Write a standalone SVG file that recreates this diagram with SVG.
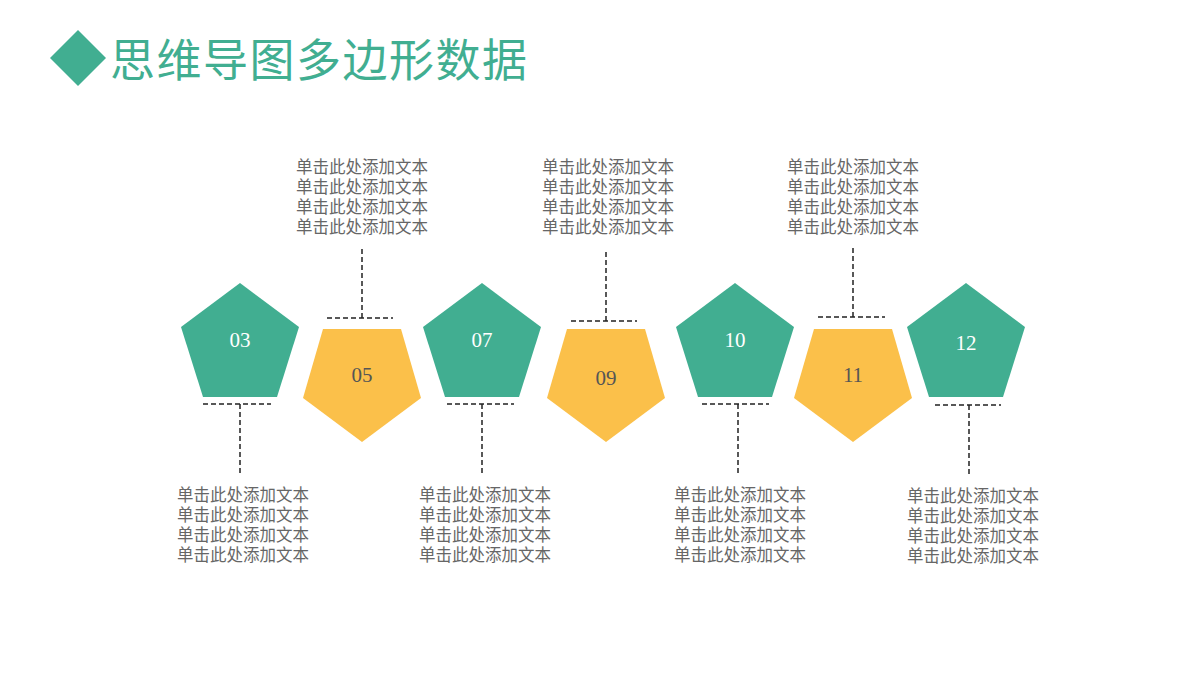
<svg xmlns="http://www.w3.org/2000/svg" width="1200" height="675" viewBox="0 0 1200 675">
<style>
.g{fill:#41ae91}.y{fill:#fbc04a}
.n{font-family:"Liberation Serif","Noto Sans CJK SC",serif;font-size:21px;text-anchor:middle}
.t{font-family:"Noto Sans CJK SC",sans-serif;font-size:16.5px;fill:#666;text-anchor:middle}
.d{stroke:#222;stroke-width:1.5;stroke-dasharray:5,3;fill:none}
</style>
<defs>
<polygon id="pu" points="0,-57 59,-13 37,57 -37,57 -59,-13"/>
<polygon id="pd" points="0,57 59,13 39,-56 -39,-56 -59,13"/>
</defs>
<rect width="1200" height="675" fill="#fff"/>
<polygon points="78,30 106,58 78,86 50,58" class="g"/>
<text x="110" y="77" font-family="Noto Sans CJK SC,sans-serif" font-size="45" fill="#41ae91" textLength="417">思维导图多边形数据</text>
<g id="connectors">
<path class="d" d="M203,404H271M240,404V475"/>
<path class="d" d="M447,404H514M482,404V475"/>
<path class="d" d="M702,404H769M738,404V475"/>
<path class="d" d="M935,405H1001M969,405V476"/>
<path class="d" d="M327,318H393M362,318V248"/>
<path class="d" d="M571,321H637M606,321V251"/>
<path class="d" d="M818,317H885M853,317V248"/>
</g>
<g id="n03"><use href="#pu" x="240" y="340" class="g"/><text x="240" y="347" class="n" fill="#fff">03</text></g>
<g id="n05"><use href="#pd" x="362" y="385" class="y"/><text x="362" y="382" class="n" fill="#555">05</text></g>
<g id="n07"><use href="#pu" x="482" y="340" class="g"/><text x="482" y="347" class="n" fill="#fff">07</text></g>
<g id="n09"><use href="#pd" x="606" y="385" class="y"/><text x="606" y="385" class="n" fill="#555">09</text></g>
<g id="n10"><use href="#pu" x="735" y="340" class="g"/><text x="735" y="347" class="n" fill="#fff">10</text></g>
<g id="n11"><use href="#pd" x="853" y="385" class="y"/><text x="853" y="382" class="n" fill="#555">11</text></g>
<g id="n12"><use href="#pu" x="966" y="340" class="g"/><text x="966" y="350" class="n" fill="#fff">12</text></g>
<g id="t03" class="t"><text x="243" y="501">单击此处添加文本</text><text x="243" y="521">单击此处添加文本</text><text x="243" y="541">单击此处添加文本</text><text x="243" y="561">单击此处添加文本</text></g>
<g id="t07" class="t"><text x="485" y="501">单击此处添加文本</text><text x="485" y="521">单击此处添加文本</text><text x="485" y="541">单击此处添加文本</text><text x="485" y="561">单击此处添加文本</text></g>
<g id="t10" class="t"><text x="740" y="501">单击此处添加文本</text><text x="740" y="521">单击此处添加文本</text><text x="740" y="541">单击此处添加文本</text><text x="740" y="561">单击此处添加文本</text></g>
<g id="t12" class="t"><text x="973" y="502">单击此处添加文本</text><text x="973" y="522">单击此处添加文本</text><text x="973" y="542">单击此处添加文本</text><text x="973" y="562">单击此处添加文本</text></g>
<g id="t05" class="t"><text x="362" y="173">单击此处添加文本</text><text x="362" y="193">单击此处添加文本</text><text x="362" y="213">单击此处添加文本</text><text x="362" y="233">单击此处添加文本</text></g>
<g id="t09" class="t"><text x="608" y="173">单击此处添加文本</text><text x="608" y="193">单击此处添加文本</text><text x="608" y="213">单击此处添加文本</text><text x="608" y="233">单击此处添加文本</text></g>
<g id="t11" class="t"><text x="853" y="173">单击此处添加文本</text><text x="853" y="193">单击此处添加文本</text><text x="853" y="213">单击此处添加文本</text><text x="853" y="233">单击此处添加文本</text></g>
</svg>
